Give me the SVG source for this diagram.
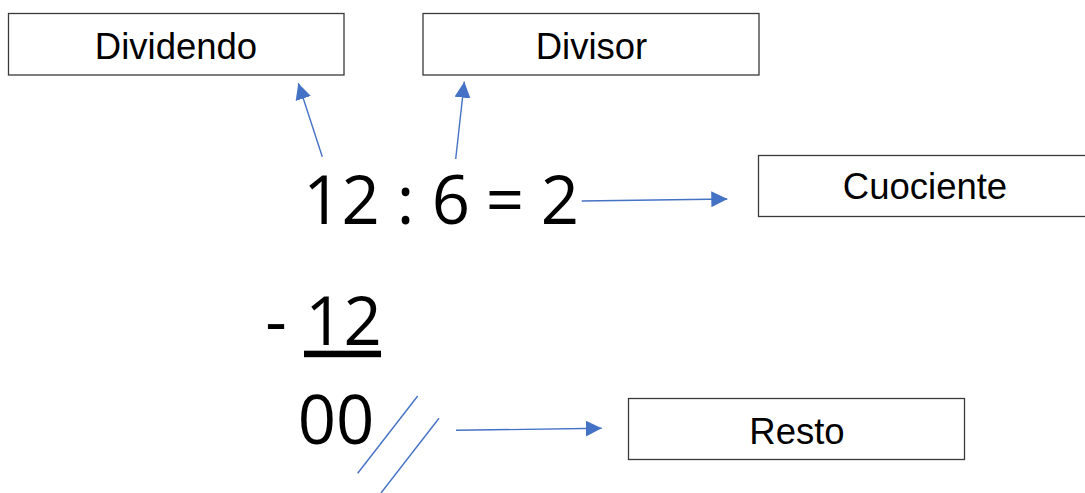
<svg xmlns="http://www.w3.org/2000/svg" width="1085" height="493" viewBox="0 0 1085 493">
<style>
.box{fill:#fff;stroke:#3a3a3a;stroke-width:1.3}
.lbl{font-family:"Liberation Sans",Arial,sans-serif;font-size:36.5px;fill:#000;text-anchor:middle}
.big{font-family:"Open Sans","Noto Sans",sans-serif;font-size:67px;fill:#000;text-anchor:middle}
.con{stroke:#4472C4;stroke-width:1.4;fill:none}
</style>
<defs>
<marker id="ah" markerUnits="userSpaceOnUse" markerWidth="16" markerHeight="16" refX="16" refY="8" orient="auto">
<path d="M0,0 L16,8 L0,16 z" fill="#4472C4"/>
</marker>
</defs>
<rect width="1085" height="493" fill="#fff"/>
<g id="dividendo"><rect class="box" x="8.5" y="13.5" width="335.5" height="61.5"/><text class="lbl" x="176" y="59">Dividendo</text></g>
<g id="divisor"><rect class="box" x="423" y="13.5" width="336" height="61.5"/><text class="lbl" x="591.5" y="59">Divisor</text></g>
<g id="cuociente"><rect class="box" x="758.5" y="155.5" width="335" height="61"/><text class="lbl" x="925" y="198.5">Cuociente</text></g>
<g id="resto"><rect class="box" x="628.5" y="398.5" width="336" height="61"/><text class="lbl" x="797" y="443.5">Resto</text></g>
<g id="operation">
<text class="big" x="341.5" y="224">12</text>
<text class="big" x="405.5" y="224">:</text>
<text class="big" x="451" y="224">6</text>
<text class="big" x="505" y="224">=</text>
<text class="big" x="560" y="224">2</text>
<text class="big" x="276" y="345">-</text>
<text class="big" x="343.5" y="345">12</text>
<rect x="304" y="350.7" width="77" height="6.5" fill="#000"/>
<text class="big" x="336" y="443.5">00</text>
</g>
<g id="connectors">
<line class="con" x1="322.3" y1="156.7" x2="298.3" y2="83.3" marker-end="url(#ah)"/>
<line class="con" x1="455.7" y1="159" x2="464.3" y2="81.7" marker-end="url(#ah)"/>
<line class="con" x1="581.7" y1="201" x2="727.3" y2="199" marker-end="url(#ah)"/>
<line class="con" x1="456" y1="430.3" x2="601.7" y2="428.3" marker-end="url(#ah)"/>
<line class="con" x1="417.7" y1="396" x2="357.7" y2="473.3"/>
<line class="con" x1="439" y1="418.3" x2="381" y2="493"/>
</g>
</svg>
